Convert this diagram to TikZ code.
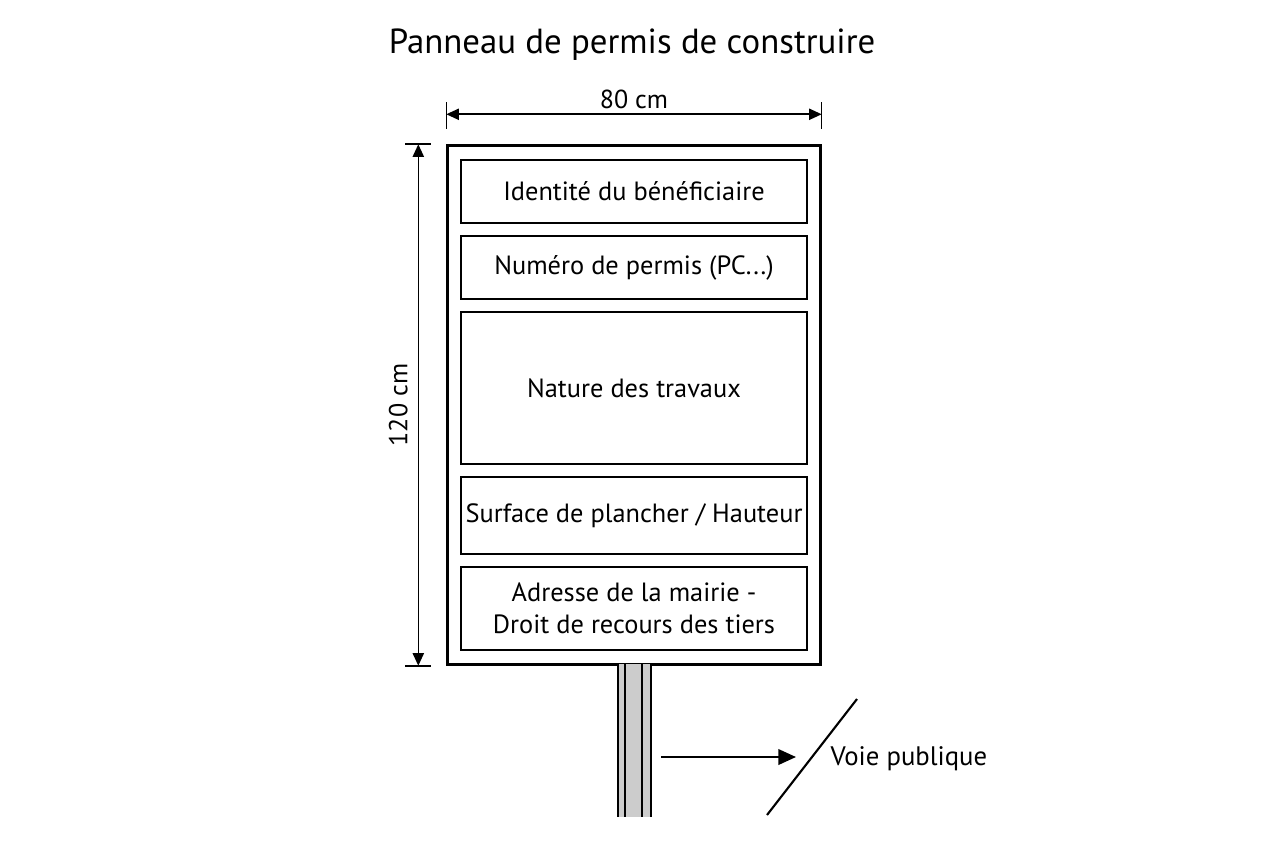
\documentclass[tikz,border=0pt]{standalone}
\usepackage{fontspec}
\setmainfont{PT Sans}
\usetikzlibrary{arrows.meta,calc}
\tikzset{
	field/.style={draw, line width=0.6pt, minimum width=3.46cm, inner sep=0pt, align=center, font=\fontsize{7.5}{9.2}\selectfont},
	dimline/.style={line width=0.45pt, {Triangle[length=3.6pt,width=3.2pt]}-{Triangle[length=3.6pt,width=3.2pt]}},
	tick/.style={line width=0.45pt},
	lbl/.style={font=\fontsize{7.4}{9}\selectfont}
}

\begin{document}
\begin{tikzpicture}[x=0.01cm,y=-0.01cm]
		%%%%% START %%%%%
		\useasboundingbox (0,0) rectangle (1264,848);
		
		\node[font=\fontsize{9.9}{11}\selectfont] (title) at (632,45) {Panneau de permis de construire};
		
		% panel
		\node[draw, line width=0.9pt, minimum width=3.72cm, minimum height=5.18cm, inner sep=0pt] (panel) at (634,405) {};
		
		\node[field, minimum height=0.63cm] (ident) at (634,191.5) {Identité du bénéficiaire};
		\node[field, minimum height=0.63cm] (numero) at (634,267.5) {Numéro de permis (PC...)};
		\node[field, minimum height=1.52cm] (nature) at (634,388) {Nature des travaux};
		\node[field, minimum height=0.77cm] (surface) at (634,515.5) {Surface de plancher / Hauteur};
		\node[field, minimum height=0.83cm] (adresse) at (634,608.5) {Adresse de la mairie -\\Droit de recours des tiers};
		
		% dimensions
		\coordinate (wl) at ($(panel.north west)+(0,-30)$);
		\coordinate (wr) at ($(panel.north east)+(0,-30)$);
		\draw[tick] ($(wl)+(0,-12)$) -- ($(wl)+(0,15)$);
		\draw[tick] ($(wr)+(0,-12)$) -- ($(wr)+(0,15)$);
		\draw[dimline] (wl) -- node[lbl, above=-2pt] (width) {80 cm} (wr);
		
		\coordinate (ht) at ($(panel.north west)+(-28,0)$);
		\coordinate (hb) at ($(panel.south west)+(-28,0)$);
		\draw[tick] ($(ht)+(-13,0)$) -- ($(ht)+(13,0)$);
		\draw[tick] ($(hb)+(-13,0)$) -- ($(hb)+(13,0)$);
		\draw[dimline] (ht) -- node[lbl, rotate=90, above=-0.5pt] (height) {120 cm} (hb);
		
		% post
		\fill[gray!40] (618,664) rectangle (651,817);
		\draw[line width=0.6pt] (618,664) -- (618,817);
		\draw[line width=0.6pt] (625,664) -- (625,817);
		\draw[line width=0.6pt] (642,664) -- (642,817);
		\draw[line width=0.6pt] (651,664) -- (651,817);
		
		% road
		\coordinate (from) at (661,757);
		\coordinate (to) at (796,757);
		\draw[line width=0.6pt, -{Triangle[length=5pt,width=4.4pt]}] (from) -- (to);
		\coordinate (s1) at (767,815);
		\coordinate (s2) at (857,699);
		\draw[line width=0.6pt] (s1) -- (s2);
		\node[font=\fontsize{7.6}{9}\selectfont, anchor=west, inner sep=0pt] (voie) at (830,759) {Voie publique};
		
		%%%%% END %%%%%
	\end{tikzpicture}
\end{document}
